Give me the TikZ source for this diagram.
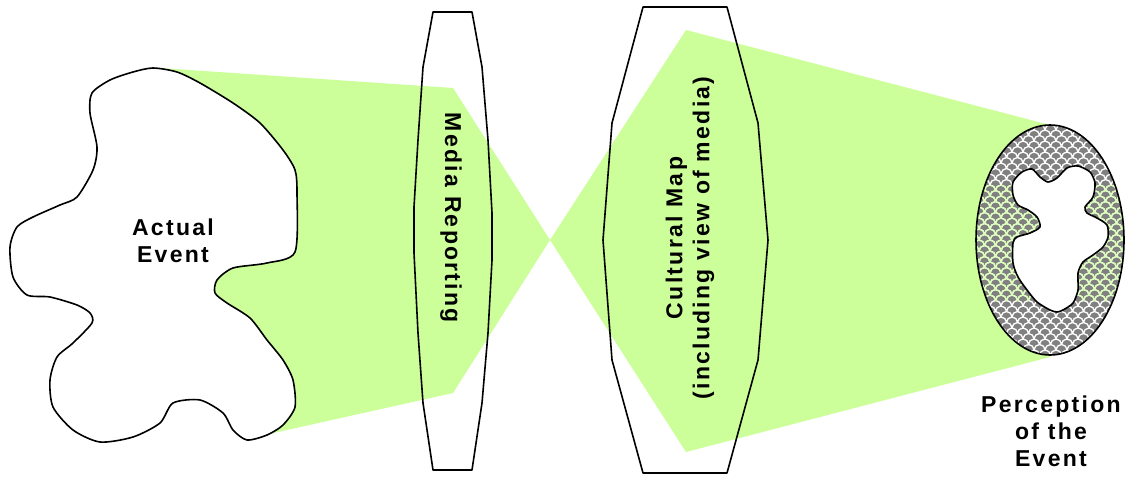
\documentclass[tikz,border=0pt]{standalone}
\usepackage{fontspec}
\newfontfamily\lblfont{Liberation Sans}[LetterSpace=10]
\usetikzlibrary{patterns}
\pgfdeclarepatternformonly{scales}{\pgfpoint{-1pt}{-1pt}}{\pgfpoint{12pt}{12pt}}{\pgfpoint{11pt}{11pt}}{%
  \pgfsetlinewidth{1.3pt}%
  \pgfpathmoveto{\pgfpoint{0pt}{0pt}}%
  \pgfpatharc{180}{0}{5.5pt}%
  \pgfpathmoveto{\pgfpoint{5.5pt}{5.5pt}}%
  \pgfpatharc{0}{90}{5.5pt}%
  \pgfpathmoveto{\pgfpoint{11pt}{11pt}}%
  \pgfpatharc{90}{180}{5.5pt}%
  \pgfusepath{stroke}%
}
\definecolor{beam}{HTML}{CCFF99}
\definecolor{percgray}{HTML}{808080}
\tikzset{
  outline/.style={draw=black, line width=1.6pt, line join=round},
  beamfill/.style={fill=beam},
  lbl/.style={font=\lblfont\bfseries\fontsize{23}{27}\selectfont, align=center, inner sep=0pt},
}
\begin{document}
\begin{tikzpicture}[x=1pt, y=-1pt]
\useasboundingbox (0,0) rectangle (1129,482);
\fill[white] (0,0) rectangle (1129,482);
% light beams
\fill[beamfill] (160,68) -- (453,88) -- (550,240) -- (453,393) -- (260,436) -- (200,300) -- cycle;
\fill[beamfill] (550,240) -- (686,30) -- (1050,125) -- (1050,357) -- (686,452) -- cycle;
% actual event blob
\draw[outline, fill=white] plot[smooth cycle, tension=0.45] coordinates {
 (153,68) (177,72) (200,83) (233,103) (260,123) (283,150) (295,170) (297,193)
 (295,252) (267,263) (233,268) (217,280) (215,293) (227,303) (250,318) (267,340)
 (283,360) (293,380) (295,407) (283,425) (267,435) (247,440) (233,430) (223,413)
 (200,400) (173,403) (160,423) (133,437) (100,442) (73,430) (53,407) (50,380)
 (57,357) (73,343) (92,323) (90,313) (77,305) (50,297) (27,295) (13,277) (10,247)
 (17,227) (33,217) (60,205) (77,197) (93,170) (97,147) (90,113) (92,93) (110,80) (133,72)};
\node[lbl] (actual) at (173,241) {Actual\\Event};
% media reporting lens
\draw[outline] (433,12) -- (472,12) -- (482,67) -- (488,140) -- (492,213) -- (492,260) -- (488,333)
  -- (482,403) -- (472,470) -- (433,470) -- (423,403) -- (418,333) -- (414,253) -- (414,207)
  -- (418,140) -- (423,67) -- cycle;
\node[lbl, rotate=-90] (media) at (451,218) {Media Reporting};
% cultural map lens
\draw[outline] (643,7) -- (727,7) -- (758,123) -- (768,240) -- (758,360) -- (727,473)
  -- (643,473) -- (612,360) -- (603,240) -- (612,123) -- cycle;
\node[lbl, rotate=90] (cultural) at (690,238) {Cultural Map\\(including view of media)};
% perception ellipse
\fill[percgray] (1050,240) ellipse [x radius=74, y radius=115];
\begin{scope}
  \clip (1050,240) ellipse [x radius=74, y radius=115];
  \fill[pattern=scales, pattern color=white] (970,120) rectangle (1129,360);
  \clip (970,185) rectangle (1129,300);
  \fill[pattern=scales, pattern color=beam!70!white] (970,120) rectangle (1129,360);
\end{scope}
\draw[outline] (1050,240) ellipse [x radius=74, y radius=115];
\draw[outline, fill=white] plot[smooth cycle, tension=0.45] coordinates {
 (1013,182) (1022,172) (1032,169) (1040,177) (1048,182) (1057,178) (1067,168) (1078,166)
 (1090,172) (1095,183) (1093,197) (1085,207) (1087,213) (1097,218) (1107,225) (1108,237)
 (1103,247) (1093,255) (1083,262) (1078,273) (1078,290) (1073,303) (1063,310) (1057,312)
 (1050,310) (1037,302) (1027,290) (1018,277) (1013,263) (1013,243) (1017,237) (1030,233)
 (1040,227) (1037,217) (1028,210) (1018,205) (1013,195)};
\node[lbl] (perception) at (1051,431) {Perception\\of the\\Event};
\end{tikzpicture}
\end{document}
